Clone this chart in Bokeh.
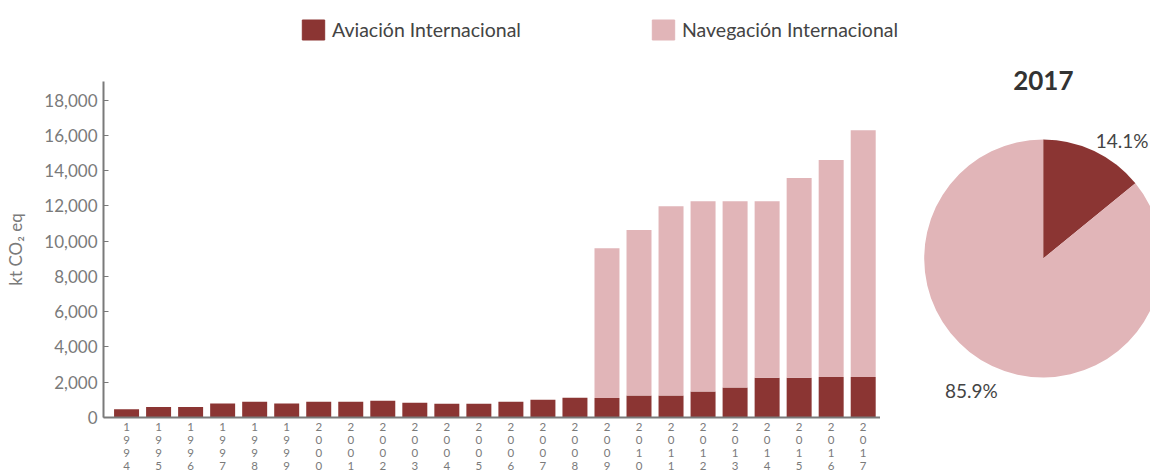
import numpy as np
from bokeh.plotting import figure
from bokeh.models import (ColumnDataSource, Range1d, FixedTicker, NumeralTickFormatter,
                          Legend, LegendItem, Title)
from bokeh.layouts import row, column
from bokeh.embed import file_html
from bokeh.resources import INLINE
from bokeh.core.properties import value

# ---------------- data ----------------
years = list(range(1994, 2018))
aviacion = [470, 590, 590, 800, 890, 800, 890, 890, 950, 830, 780, 780, 890, 1000, 1120,
            1100, 1250, 1250, 1480, 1700, 2250, 2250, 2300, 2300]
navegacion = [0, 0, 0, 0, 0, 0, 0, 0, 0, 0, 0, 0, 0, 0, 0,
              8500, 9380, 10740, 10790, 10570, 10020, 11330, 12300, 14000]
y_ticks = [0, 2000, 4000, 6000, 8000, 10000, 12000, 14000, 16000, 18000]
series_names = ["Aviación Internacional", "Navegación Internacional"]
pie_year = 2017

# ---------------- style / layout ----------------
DARK = "#8b3533"
PINK = "#e1b5b8"
GRAY = "#7a7a7a"
FONT = "Lato"
W, HT = 1150, 474
TOP_H = 46
W_BAR = 880
W_PIE = W - W_BAR
H = HT - TOP_H
FRAME_TOP, FRAME_BOTTOM = 81, 417

src = ColumnDataSource(dict(year=years, aviacion=aviacion, navegacion=navegacion))

# ---------------- legend strip ----------------
lg = figure(width=W, height=TOP_H, output_backend="svg", toolbar_location=None,
            x_range=Range1d(0, 1), y_range=Range1d(0, 1), min_border=0)
lg.axis.visible = False
lg.grid.grid_line_color = None
lg.outline_line_color = None
# legend proxies: the real series, plotted outside this strip's visible range
r_av = lg.vbar(x="year", top="aviacion", width=0.5, color=DARK, source=src)
r_nav = lg.vbar(x="year", top="navegacion", width=0.5, color=PINK, source=src)
legend = Legend(items=[LegendItem(label=series_names[0], renderers=[r_av]),
                       LegendItem(label=series_names[1], renderers=[r_nav])],
                orientation="horizontal", location=(299, 4),
                spacing=128, glyph_width=28, glyph_height=25, label_standoff=5,
                label_text_font=FONT, label_text_font_size="19.5px", label_text_color="#444",
                background_fill_alpha=0, border_line_color=None, padding=0, margin=0)
lg.add_layout(legend)

# ---------------- bars ----------------
p = figure(width=W_BAR, height=H, output_backend="svg", toolbar_location=None,
           x_range=Range1d(1993.28, 2017.54), y_range=Range1d(0, 19060),
           min_border_top=FRAME_TOP - TOP_H, min_border_left=103, min_border_right=0,
           min_border_bottom=HT - FRAME_BOTTOM)
p.outline_line_color = None
p.grid.grid_line_color = None

p.vbar_stack(["aviacion", "navegacion"], x="year", width=0.78, color=[DARK, PINK],
             line_color=None, source=src)

ya = p.yaxis[0]
ya.ticker = FixedTicker(ticks=y_ticks)
ya.formatter = NumeralTickFormatter(format="0,0")
ya.axis_line_color = GRAY
ya.axis_line_width = 2
ya.major_tick_in = 5
ya.major_tick_out = 0
ya.minor_tick_line_color = None
ya.major_tick_line_color = GRAY
ya.major_label_text_font = FONT
ya.major_label_text_font_size = "17px"
ya.major_label_text_color = GRAY
ya.major_label_standoff = 6
ya.axis_label = "kt CO₂ eq"
ya.axis_label_text_font = FONT
ya.axis_label_text_font_style = "normal"
ya.axis_label_text_font_size = "17px"
ya.axis_label_text_color = GRAY
ya.axis_label_standoff = 15

xa = p.xaxis[0]
xa.ticker = FixedTicker(ticks=years)
xa.major_label_overrides = {y: "\n".join(str(y)) for y in years}
xa.axis_line_color = GRAY
xa.axis_line_width = 2
xa.major_tick_in = 0
xa.major_tick_out = 0
xa.minor_tick_line_color = None
xa.major_label_text_font = FONT
xa.major_label_text_font_size = "11.5px"
xa.major_label_text_color = GRAY
xa.major_label_text_line_height = 1.0
xa.major_label_standoff = 2

# ---------------- pie ----------------
i = years.index(pie_year)
vals = np.array([aviacion[i], navegacion[i]], dtype=float)
shares = vals / vals.sum()
ends = np.cumsum(shares) * 2 * np.pi
starts = np.concatenate([[0], ends[:-1]])
start_angle = np.pi / 2 - starts
end_angle = np.pi / 2 - ends

# pie frame is aligned with the bar frame; ranges expressed in page pixels (y downward)
q = figure(width=W_PIE, height=H, output_backend="svg", toolbar_location=None,
           x_range=Range1d(W_BAR, W), y_range=Range1d(FRAME_BOTTOM, FRAME_TOP), min_border=0)
q.axis.visible = False
q.grid.grid_line_color = None
q.outline_line_color = None
CX, CY, R = 1042.7, 258, 119
psrc = ColumnDataSource(dict(start=start_angle, end=end_angle, color=[DARK, PINK]))
q.wedge(x=CX, y=CY, radius=R, radius_units="screen", start_angle="start", end_angle="end",
        direction="clock", fill_color="color", line_color=None, source=psrc)

labels = [f"{s*100:.1f}%" for s in shares]
lab_x = [1121.7, 970.8]
lab_y = [140, 390]
q.text(x=lab_x, y=lab_y, text=labels, text_font=value(FONT), text_font_size="19px",
       text_color="#444", text_align="center", text_baseline="middle")
q.title = Title(text=str(pie_year), align="right", offset=77, standoff=-16,
                text_font=FONT, text_font_size="26px", text_font_style="bold",
                text_color="#333")

layout = column(lg, row(p, q))
open("out.html", "w").write(file_html(layout, INLINE))
